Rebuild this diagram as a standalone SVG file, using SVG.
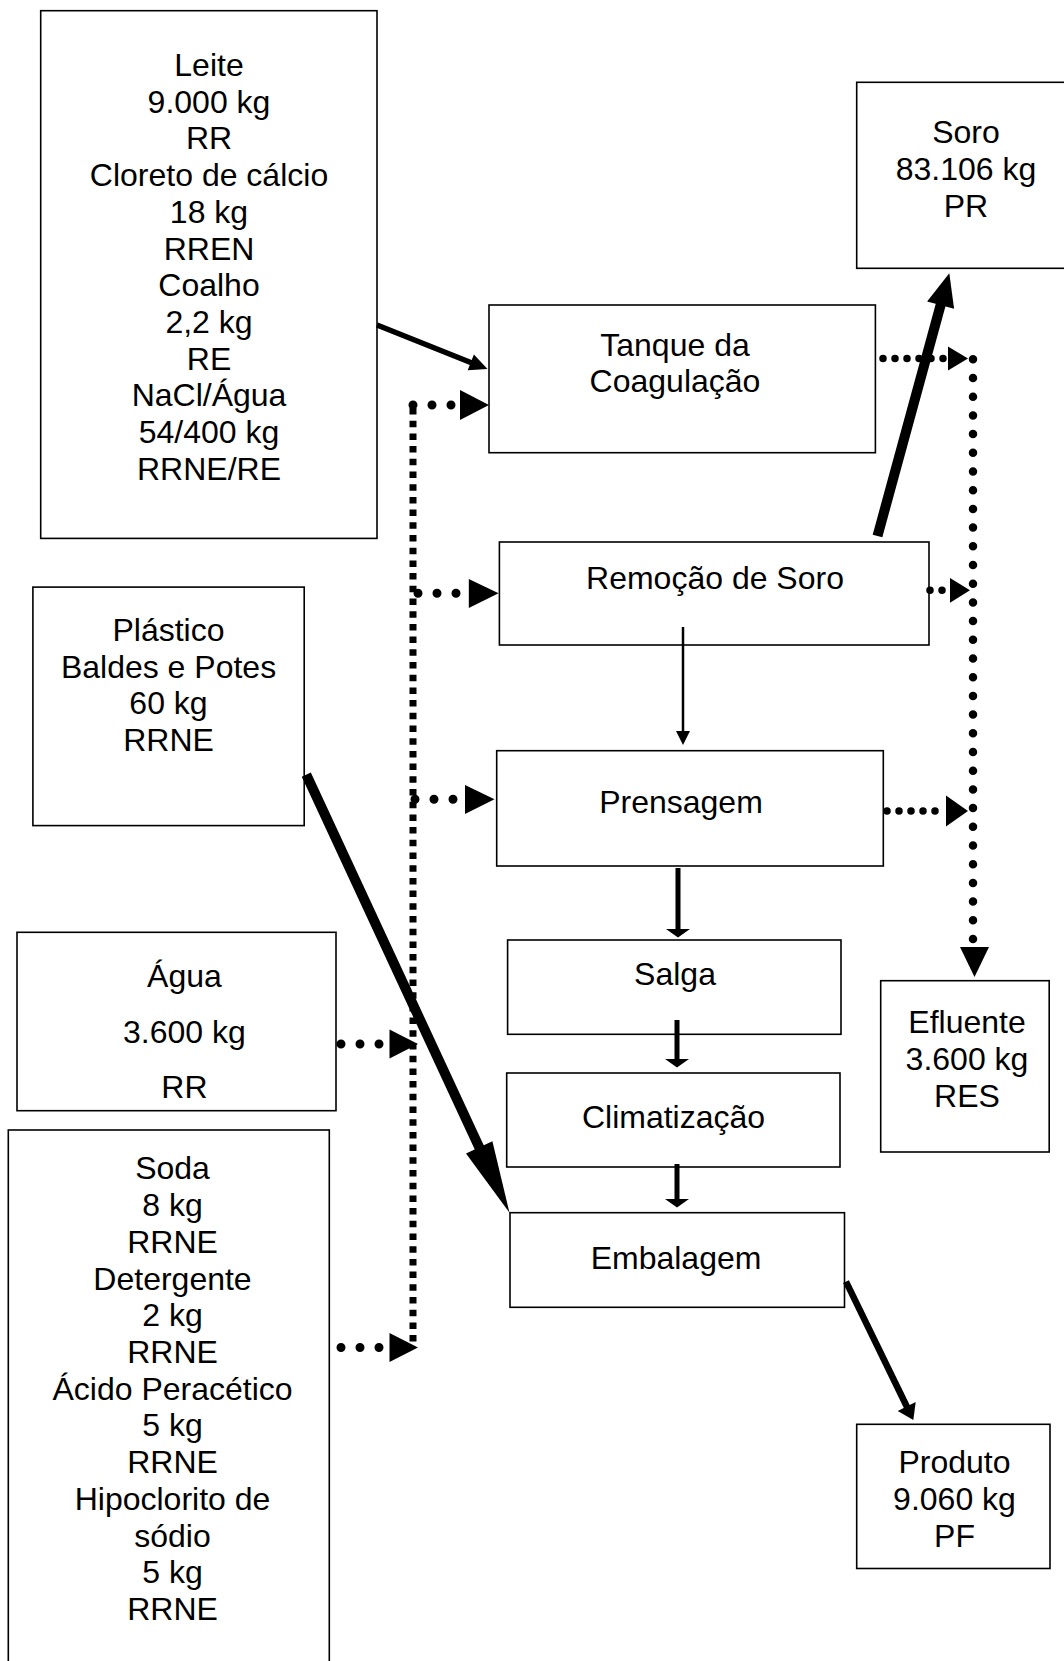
<svg xmlns="http://www.w3.org/2000/svg" width="1064" height="1661" viewBox="0 0 1064 1661">
  <style>
    .box { fill: #fff; stroke: #000; stroke-width: 1.6; }
    text { font-family: "Liberation Sans", Arial, sans-serif; font-size: 32px; fill: #000; text-anchor: middle; }
    .thick { stroke: #000; fill: none; stroke-linecap: butt; }
    .sq { stroke: #000; stroke-width: 7; fill: none; stroke-dasharray: 6.5 6.2; }
    .dotL { stroke: #000; stroke-width: 9; fill: none; stroke-linecap: round; stroke-dasharray: 0 19; }
    .dotR { stroke: #000; stroke-width: 7.5; fill: none; stroke-linecap: round; stroke-dasharray: 0 12; }
    .dotV { stroke: #000; stroke-width: 8.5; fill: none; stroke-linecap: round; stroke-dasharray: 0 18.7; }
    .head { fill: #000; stroke: none; }
  </style>

  <!-- inputs -->
  <g id="leite">
    <rect class="box" x="40.7" y="10.7" width="336.3" height="527.7"/>
    <text x="209" y="76">Leite</text>
    <text x="209" y="112.7">9.000 kg</text>
    <text x="209" y="149.4">RR</text>
    <text x="209" y="186.1">Cloreto de cálcio</text>
    <text x="209" y="222.8">18 kg</text>
    <text x="209" y="259.5">RREN</text>
    <text x="209" y="296.3">Coalho</text>
    <text x="209" y="333">2,2 kg</text>
    <text x="209" y="369.7">RE</text>
    <text x="209" y="406.4">NaCl/Água</text>
    <text x="209" y="443.1">54/400 kg</text>
    <text x="209" y="479.8">RRNE/RE</text>
  </g>

  <g id="plastico">
    <rect class="box" x="32.9" y="587.1" width="271.3" height="238.5"/>
    <text x="168.5" y="641">Plástico</text>
    <text x="168.5" y="677.7">Baldes e Potes</text>
    <text x="168.5" y="714.4">60 kg</text>
    <text x="168.5" y="751.1">RRNE</text>
  </g>

  <g id="agua">
    <rect class="box" x="17" y="932.3" width="319" height="178.4"/>
    <text x="184.4" y="986.5">Água</text>
    <text x="184.4" y="1042.5">3.600 kg</text>
    <text x="184.4" y="1097.8">RR</text>
  </g>

  <g id="limpeza">
    <rect class="box" x="8.3" y="1130" width="321" height="560"/>
    <text x="172.5" y="1179.4">Soda</text>
    <text x="172.5" y="1216.1">8 kg</text>
    <text x="172.5" y="1252.8">RRNE</text>
    <text x="172.5" y="1289.5">Detergente</text>
    <text x="172.5" y="1326.2">2 kg</text>
    <text x="172.5" y="1362.9">RRNE</text>
    <text x="172.5" y="1399.7">Ácido Peracético</text>
    <text x="172.5" y="1436.4">5 kg</text>
    <text x="172.5" y="1473.1">RRNE</text>
    <text x="172.5" y="1509.8">Hipoclorito de</text>
    <text x="172.5" y="1546.5">sódio</text>
    <text x="172.5" y="1583.2">5 kg</text>
    <text x="172.5" y="1619.9">RRNE</text>
  </g>

  <!-- process steps -->
  <g id="tanque">
    <rect class="box" x="489" y="305" width="386.4" height="147.7"/>
    <text x="675" y="355.5">Tanque da</text>
    <text x="675" y="392.2">Coagulação</text>
  </g>

  <g id="remocao">
    <rect class="box" x="499.4" y="542" width="429.6" height="103"/>
    <text x="715" y="589">Remoção de Soro</text>
  </g>

  <g id="prensagem">
    <rect class="box" x="496.7" y="750.7" width="386.6" height="115.3"/>
    <text x="681" y="812.7">Prensagem</text>
  </g>

  <g id="salga">
    <rect class="box" x="507.6" y="940" width="333.4" height="94.3"/>
    <text x="675" y="985">Salga</text>
  </g>

  <g id="climatizacao">
    <rect class="box" x="506.7" y="1073" width="333.3" height="94"/>
    <text x="673.5" y="1128.3">Climatização</text>
  </g>

  <g id="embalagem">
    <rect class="box" x="510" y="1212.7" width="334.5" height="94.6"/>
    <text x="676" y="1268.5">Embalagem</text>
  </g>

  <!-- outputs -->
  <g id="soro">
    <rect class="box" x="856.7" y="82.3" width="220" height="186"/>
    <text x="966" y="143.3">Soro</text>
    <text x="966" y="180">83.106 kg</text>
    <text x="966" y="216.7">PR</text>
  </g>

  <g id="efluente">
    <rect class="box" x="880.7" y="980.7" width="168.5" height="171.3"/>
    <text x="967" y="1033.3">Efluente</text>
    <text x="967" y="1070">3.600 kg</text>
    <text x="967" y="1106.7">RES</text>
  </g>

  <g id="produto">
    <rect class="box" x="856.7" y="1424.3" width="193.3" height="144.2"/>
    <text x="954.5" y="1473.3">Produto</text>
    <text x="954.5" y="1510">9.060 kg</text>
    <text x="954.5" y="1546.7">PF</text>
  </g>

  <g id="connectors">
    <!-- cleaning and water supply header (square dots) -->
    <line class="sq" x1="413" y1="408" x2="413" y2="1346"/>

    <!-- branches from header into the steps -->
    <line class="dotL" x1="413" y1="405" x2="452" y2="405"/>
    <polygon class="head" points="460,390 489,405 460,420"/>
    <line class="dotL" x1="418" y1="593.3" x2="460" y2="593.3"/>
    <polygon class="head" points="468.8,579 498.6,593.3 468.8,608"/>
    <line class="dotL" x1="415" y1="799.3" x2="456" y2="799.3"/>
    <polygon class="head" points="465,785 494.5,799.3 465,814"/>

    <!-- water and cleaning agents into the header -->
    <line class="dotL" x1="341" y1="1044" x2="381" y2="1044"/>
    <polygon class="head" points="389.5,1029.5 418,1044 389.5,1058.5"/>
    <line class="dotL" x1="341" y1="1347.5" x2="381" y2="1347.5"/>
    <polygon class="head" points="389.5,1333 418,1347.5 389.5,1362"/>

    <!-- effluent collection (round dots) -->
    <line class="dotR" x1="883" y1="358.5" x2="944" y2="358.5"/>
    <polygon class="head" points="948,346.5 968,358.5 948,370.5"/>
    <line class="dotR" x1="930" y1="590.3" x2="943" y2="590.3"/>
    <polygon class="head" points="950,578 970,590.3 950,602.7"/>
    <line class="dotR" x1="887" y1="811" x2="941" y2="811"/>
    <polygon class="head" points="946,795.5 968,811 946,826.5"/>
    <line class="dotV" x1="973" y1="359.3" x2="973" y2="939"/>
    <polygon class="head" points="960,947 989,947 974.5,977"/>

    <!-- Leite into Tanque -->
    <line class="thick" stroke-width="5.5" x1="377" y1="325" x2="472" y2="363"/>
    <polygon class="head" points="487.5,369 467.7,370.2 473.9,354.4"/>

    <!-- Remoção de Soro to Soro -->
    <line class="thick" stroke-width="10" x1="877.5" y1="536" x2="941" y2="303.6"/>
    <polygon class="head" points="949.3,273.3 954.1,308.8 927.1,301.4"/>

    <!-- Plástico to Embalagem -->
    <line class="thick" stroke-width="10" x1="306.3" y1="774.7" x2="480" y2="1149"/>
    <polygon class="head" points="509.5,1212.7 466,1153.5 492.4,1141.3"/>

    <!-- Embalagem to Produto -->
    <line class="thick" stroke-width="6.5" x1="846" y1="1281.7" x2="907.5" y2="1408"/>
    <polygon class="head" points="913.3,1420 897.7,1410.9 915.7,1402.1"/>

    <!-- main line between steps -->
    <line class="thick" stroke-width="2.5" x1="683" y1="627" x2="683" y2="733"/>
    <polygon class="head" points="676,731 690,731 683,745"/>
    <line class="thick" stroke-width="5" x1="678" y1="868" x2="678" y2="931"/>
    <polygon class="head" points="666,929 690,929 678,937.5"/>
    <line class="thick" stroke-width="5" x1="677" y1="1020" x2="677" y2="1061"/>
    <polygon class="head" points="665,1059 689,1059 677,1067.5"/>
    <line class="thick" stroke-width="5" x1="677" y1="1164" x2="677" y2="1201"/>
    <polygon class="head" points="665,1199 689,1199 677,1207.5"/>
  </g>
</svg>
